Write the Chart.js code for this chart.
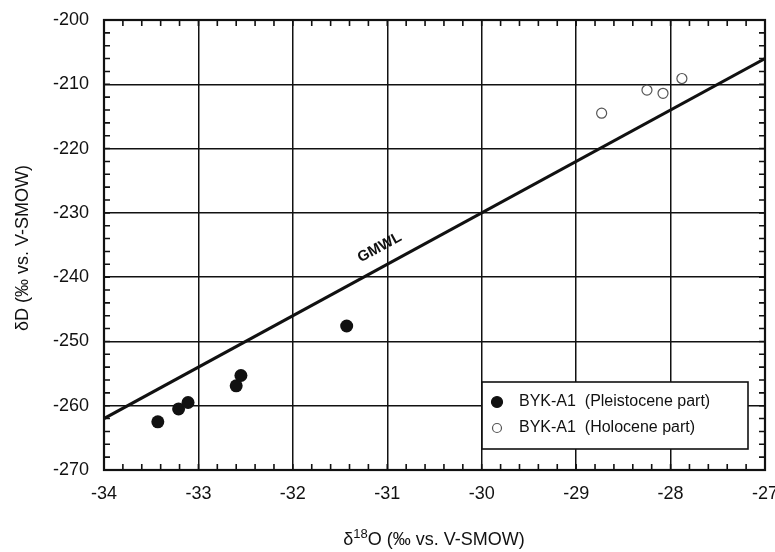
<!DOCTYPE html>
<html>
<head>
<meta charset="utf-8">
<script src="https://cdn.jsdelivr.net/npm/chart.js"></script>
<style>
  body { margin: 0; background: #fff; }
</style>
</head>
<body>
<div style="width:775px;height:552px;">
  <canvas id="myChart"></canvas>
</div>

<script>
// values
const pleistoceneO = [-33.43, -33.21, -33.11, -32.60, -32.55, -31.43];
const pleistoceneD = [-262.5, -260.5, -259.5, -256.9, -255.3, -247.6];
const holoceneO = [-28.73, -28.25, -28.08, -27.88];
const holoceneD = [-214.5, -210.9, -211.4, -209.1];
// global meteoric water line end points
const gmwlO = [-34, -27];
const gmwlD = [-262, -206];
const gmwlLabelAt = { x: -31.08, y: -235.4 };

const xTicks = [-34, -33, -32, -31, -30, -29, -28, -27];
const yTicks = [-270, -260, -250, -240, -230, -220, -210, -200];

const FONT = '"Liberation Sans", Arial, sans-serif';

function pts(xs, ys) {
  return xs.map(function (x, i) { return { x: x, y: ys[i] }; });
}

// inward minor ticks on all four sides
const minorTicks = {
  id: 'minorTicks',
  afterDraw(chart) {
    const ctx = chart.ctx, a = chart.chartArea;
    const xs = chart.scales.x, ys = chart.scales.y;
    ctx.save();
    ctx.strokeStyle = '#111';
    ctx.lineWidth = 1.6;
    ctx.beginPath();
    for (let i = 0; i <= 35; i++) {
      const px = xs.getPixelForValue(xs.min + i * 0.2);
      ctx.moveTo(px, a.bottom); ctx.lineTo(px, a.bottom - 6);
      ctx.moveTo(px, a.top); ctx.lineTo(px, a.top + 6);
    }
    for (let j = 0; j <= 35; j++) {
      const py = ys.getPixelForValue(ys.min + j * 2);
      ctx.moveTo(a.left, py); ctx.lineTo(a.left + 6, py);
      ctx.moveTo(a.right, py); ctx.lineTo(a.right - 6, py);
    }
    ctx.stroke();
    ctx.lineWidth = 2.2;
    ctx.strokeRect(a.left, a.top, a.right - a.left, a.bottom - a.top);
    ctx.restore();
  }
};

// axis titles, GMWL label, legend box
const decorations = {
  id: 'decorations',
  afterDraw(chart) {
    const ctx = chart.ctx, a = chart.chartArea;
    const xs = chart.scales.x, ys = chart.scales.y;
    ctx.save();
    ctx.fillStyle = '#111';
    ctx.textBaseline = 'alphabetic';

    // x title: δ18O (‰ vs. V-SMOW)
    const big = '18px ' + FONT, small = '13px ' + FONT;
    const parts = [['δ', big, 0], ['18', small, -7], ['O (‰ vs. V-SMOW)', big, 0]];
    let w = 0;
    parts.forEach(function (p) { ctx.font = p[1]; w += ctx.measureText(p[0]).width; });
    let cx = 434 - w / 2;
    const by = 545;
    parts.forEach(function (p) {
      ctx.font = p[1];
      ctx.fillText(p[0], cx, by + p[2]);
      cx += ctx.measureText(p[0]).width;
    });

    // y title
    ctx.save();
    ctx.translate(28, 248);
    ctx.rotate(-Math.PI / 2);
    ctx.font = '18px ' + FONT;
    ctx.textAlign = 'center';
    ctx.fillText('δD (‰ vs. V-SMOW)', 0, 0);
    ctx.restore();

    // GMWL label along the line
    const p0x = xs.getPixelForValue(gmwlO[0]), p0y = ys.getPixelForValue(gmwlD[0]);
    const p1x = xs.getPixelForValue(gmwlO[1]), p1y = ys.getPixelForValue(gmwlD[1]);
    ctx.save();
    ctx.translate(xs.getPixelForValue(gmwlLabelAt.x), ys.getPixelForValue(gmwlLabelAt.y));
    ctx.rotate(Math.atan2(p1y - p0y, p1x - p0x));
    ctx.font = '600 15px ' + FONT;
    ctx.textAlign = 'center';
    ctx.textBaseline = 'middle';
    ctx.fillText('GMWL', 0, 0);
    ctx.restore();

    // legend
    const lx = 482, ly = 382, lw = 266, lh = 67;
    ctx.fillStyle = '#fff';
    ctx.fillRect(lx, ly, lw, lh);
    ctx.strokeStyle = '#111';
    ctx.lineWidth = 1.6;
    ctx.strokeRect(lx, ly, lw, lh);
    ctx.font = '16px ' + FONT;
    ctx.textBaseline = 'middle';
    chart.data.datasets.slice(0, 2).forEach(function (ds, i) {
      const my = ly + 20 + i * 26;
      ctx.beginPath();
      ctx.arc(lx + 15, my, i === 0 ? 5.5 : 4.5, 0, Math.PI * 2);
      ctx.fillStyle = ds.backgroundColor;
      ctx.fill();
      ctx.strokeStyle = ds.borderColor;
      ctx.lineWidth = 1.2;
      ctx.stroke();
      ctx.fillStyle = '#111';
      ctx.fillText(ds.label, lx + 37, my);
    });
    ctx.restore();
  }
};

const data = {
  datasets: [{
    label: 'BYK-A1  (Pleistocene part)',
    data: pts(pleistoceneO, pleistoceneD),
    backgroundColor: '#111',
    borderColor: '#111',
    pointRadius: 6.5,
    borderWidth: 0
  }, {
    label: 'BYK-A1  (Holocene part)',
    data: pts(holoceneO, holoceneD),
    backgroundColor: '#fff',
    borderColor: '#555',
    pointRadius: 5,
    borderWidth: 1.2
  }, {
    type: 'line',
    label: 'GMWL',
    data: pts(gmwlO, gmwlD),
    borderColor: '#111',
    borderWidth: 3,
    pointRadius: 0,
    fill: false
  }]
};

const config = {
  type: 'scatter',
  data: data,
  options: {
    responsive: true,
    maintainAspectRatio: false,
    animation: false,
    layout: { padding: { top: 20, right: 10, left: 0, bottom: 0 } },
    plugins: {
      legend: { display: false },
      tooltip: { enabled: false }
    },
    scales: {
      x: {
        type: 'linear',
        min: -34, max: -27,
        afterBuildTicks: function (s) { s.ticks = xTicks.map(function (v) { return { value: v }; }); },
        afterFit: function (s) { s.height = 82; s.paddingLeft = 0; s.paddingRight = 0; },
        ticks: { font: { size: 18, family: FONT }, color: '#111', padding: 13 },
        grid: { color: '#111', lineWidth: 1.5, drawTicks: false },
        border: { display: true, color: '#111', width: 2 }
      },
      y: {
        min: -270, max: -200,
        afterBuildTicks: function (s) { s.ticks = yTicks.map(function (v) { return { value: v }; }); },
        afterFit: function (s) { s.width = 104; s.paddingTop = 0; s.paddingBottom = 0; },
        ticks: { font: { size: 18, family: FONT }, color: '#111', padding: 15 },
        grid: { color: '#111', lineWidth: 1.5, drawTicks: false },
        border: { display: true, color: '#111', width: 2 }
      }
    }
  },
  plugins: [minorTicks, decorations]
};

var myChart = new Chart(document.getElementById('myChart'), config);
</script>
</body>
</html>
